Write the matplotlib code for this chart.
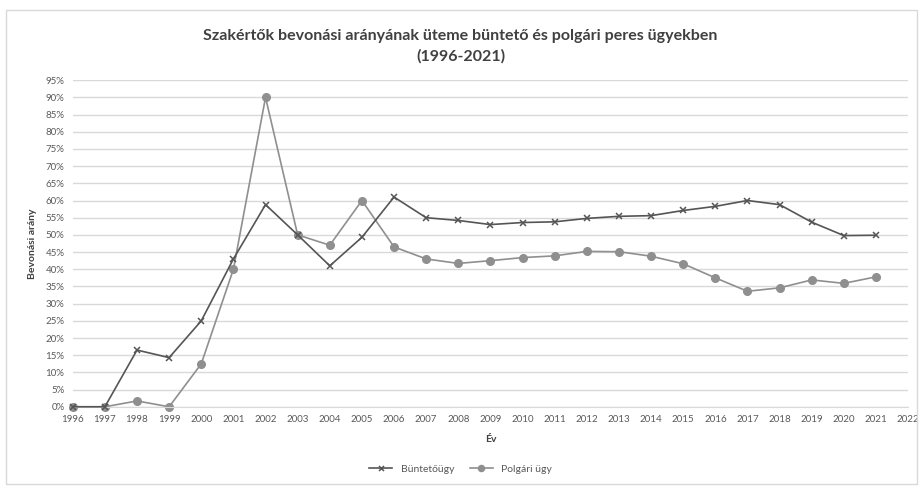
import matplotlib.pyplot as plt
import matplotlib.patches as patches

years = list(range(1996, 2022))
buntetougy = [0, 0, 16.5, 14.3, 25, 43, 58.8, 50, 41, 49.3, 61, 55, 54.2, 53, 53.6,
              53.8, 54.8, 55.4, 55.6, 57.1, 58.3, 60, 58.8, 53.7, 49.8, 49.9]
polgari = [0, 0, 1.7, 0, 12.5, 40, 90, 50, 47, 60, 46.5, 43, 41.7, 42.5, 43.4,
           43.9, 45.2, 45.1, 43.8, 41.6, 37.5, 33.6, 34.6, 36.9, 35.9, 37.8]
yticks = list(range(0, 100, 5))
xticks = list(range(1996, 2023))

plt.rcParams['font.family'] = ['Lato', 'DejaVu Sans']
txt = '#404040'

fig = plt.figure(figsize=(9.21, 4.86), dpi=100)
fig.patches.append(patches.Rectangle((0.006, 0.005), 0.99, 0.975, transform=fig.transFigure,
                                     fill=False, edgecolor='#d9d9d9', linewidth=1))
ax = fig.add_axes([0.079, 0.163, 0.907, 0.672])

ax.plot(years, polgari, color='#8f8f8f', marker='o', markersize=5.5, linewidth=1.2,
        label='Polgári ügy', zorder=2, clip_on=False)
ax.plot(years, buntetougy, color='#555555', marker='x', markersize=4.5, linewidth=1.2,
        markeredgewidth=1.1, label='Büntetőügy', zorder=3, clip_on=False)

ax.set_xlim(1996, 2022)
ax.set_ylim(0, 95)
ax.set_xticks(xticks)
ax.set_yticks(yticks)
ax.set_yticklabels([f'{v}%' for v in yticks])
ax.tick_params(axis='both', length=0, labelsize=7, colors='#595959', pad=6)
ax.grid(axis='y', color='#d9d9d9', linewidth=1)
ax.set_axisbelow(True)
for s in ['top', 'right', 'left']:
    ax.spines[s].set_visible(False)
ax.spines['bottom'].set_color('#d9d9d9')

ax.set_xlabel('Év', fontsize=7.5, color=txt, fontweight='bold', labelpad=8)
ax.set_ylabel('Bevonási arány', fontsize=7.5, color=txt, fontweight='bold', labelpad=6)
fig.text(0.5, 0.905, 'Szakértők bevonási arányának üteme büntető és polgári peres ügyekben\n(1996-2021)',
         ha='center', va='center', fontsize=11.5, fontweight='bold', color=txt, linespacing=1.5)
handles, labels = ax.get_legend_handles_labels()
fig.legend(handles[::-1], labels[::-1], loc='center', bbox_to_anchor=(0.5, 0.035), ncol=2,
           frameon=False, fontsize=7.5, labelcolor='#595959', handlelength=2.2,
           columnspacing=1.5, markerscale=0.8)

fig.savefig('out.png', dpi=100)
